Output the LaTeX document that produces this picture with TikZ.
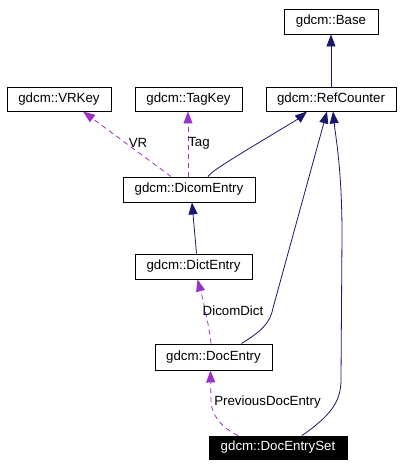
\documentclass[tikz,border=0pt]{standalone}
\usepackage{fontspec}
\setmainfont{Liberation Sans}
\usetikzlibrary{arrows.meta,calc}
\definecolor{navyedge}{HTML}{191970}
\definecolor{orchidedge}{HTML}{9932CC}
\begin{document}
\begin{tikzpicture}[x=1pt,y=-1pt,
  cls/.style={draw=black,line width=0.9pt,fill=white,inner sep=0pt,minimum height=25pt,font=\fontsize{13.3}{16}\selectfont},
  inherit/.style={navyedge,line width=0.8pt,-{Triangle[length=12pt,width=9pt]}},
  uses/.style={orchidedge,line width=0.8pt,dash pattern=on 5pt off 4pt,-{Triangle[length=12pt,width=9pt]}},
  lbl/.style={font=\fontsize{13.3}{16}\selectfont,inner sep=0pt}]
\useasboundingbox (0,0) rectangle (403,467);
\node[cls,minimum width=94pt] (Base) at (331,21.5) {gdcm::Base};
\node[cls,minimum width=104pt,minimum height=24pt] (VRKey) at (59,99) {gdcm::VRKey};
\node[cls,minimum width=107pt,minimum height=24pt] (TagKey) at (188.5,99) {gdcm::TagKey};
\node[cls,minimum width=130pt,minimum height=24pt] (RefCounter) at (331,99) {gdcm::RefCounter};
\node[cls,minimum width=132pt] (DicomEntry) at (189,189.5) {gdcm::DicomEntry};
\node[cls,minimum width=117pt] (DictEntry) at (193.5,266.5) {gdcm::DictEntry};
\node[cls,minimum width=117pt,minimum height=26pt] (DocEntry) at (213.5,357) {gdcm::DocEntry};
\node[cls,minimum width=138pt,minimum height=23pt,fill=black,text=white] (DocEntrySet) at (278,447.5) {gdcm::DocEntrySet};

% inheritance
\draw[inherit] (RefCounter.north) -- (Base.south);
\draw[inherit] ([xshift=19pt]DicomEntry.north) .. controls (213,170) and (230,160) .. (298,119) -- ([xshift=-24pt]RefCounter.south);
\draw[inherit] ([xshift=3pt]DictEntry.north) -- ([xshift=3pt]DicomEntry.south);
\draw[inherit] ([xshift=28pt]DocEntry.north) .. controls (260,332) and (270,324) .. (273,308) -- ([xshift=-4pt]RefCounter.south);
\draw[inherit] ([xshift=24pt]DocEntrySet.north) .. controls (330,416) and (341,402) .. (341,380) -- (342,235) .. controls (342,170) and (336,140) .. ([xshift=2pt]RefCounter.south);

% usage
\draw[uses] ([xshift=-18pt]DicomEntry.north) -- ([xshift=24pt]VRKey.south);
\node[lbl] (lVR) at (138,143) {VR};
\draw[uses] ([xshift=-1pt]DicomEntry.north) -- ([xshift=-0.5pt]TagKey.south);
\node[lbl] (lTag) at (199,143) {Tag};
\draw[uses] ([xshift=-2.5pt]DocEntry.north) .. controls (209,325) and (203,300) .. ([xshift=4pt]DictEntry.south);
\node[lbl] (lDD) at (233,311) {DicomDict};
\draw[uses] ([xshift=-40pt]DocEntrySet.north) .. controls (222,428) and (211,415) .. (211,400) -- ([xshift=-3pt]DocEntry.south);
\node[lbl] (lPD) at (267.5,402) {PreviousDocEntry};
\end{tikzpicture}
\end{document}
